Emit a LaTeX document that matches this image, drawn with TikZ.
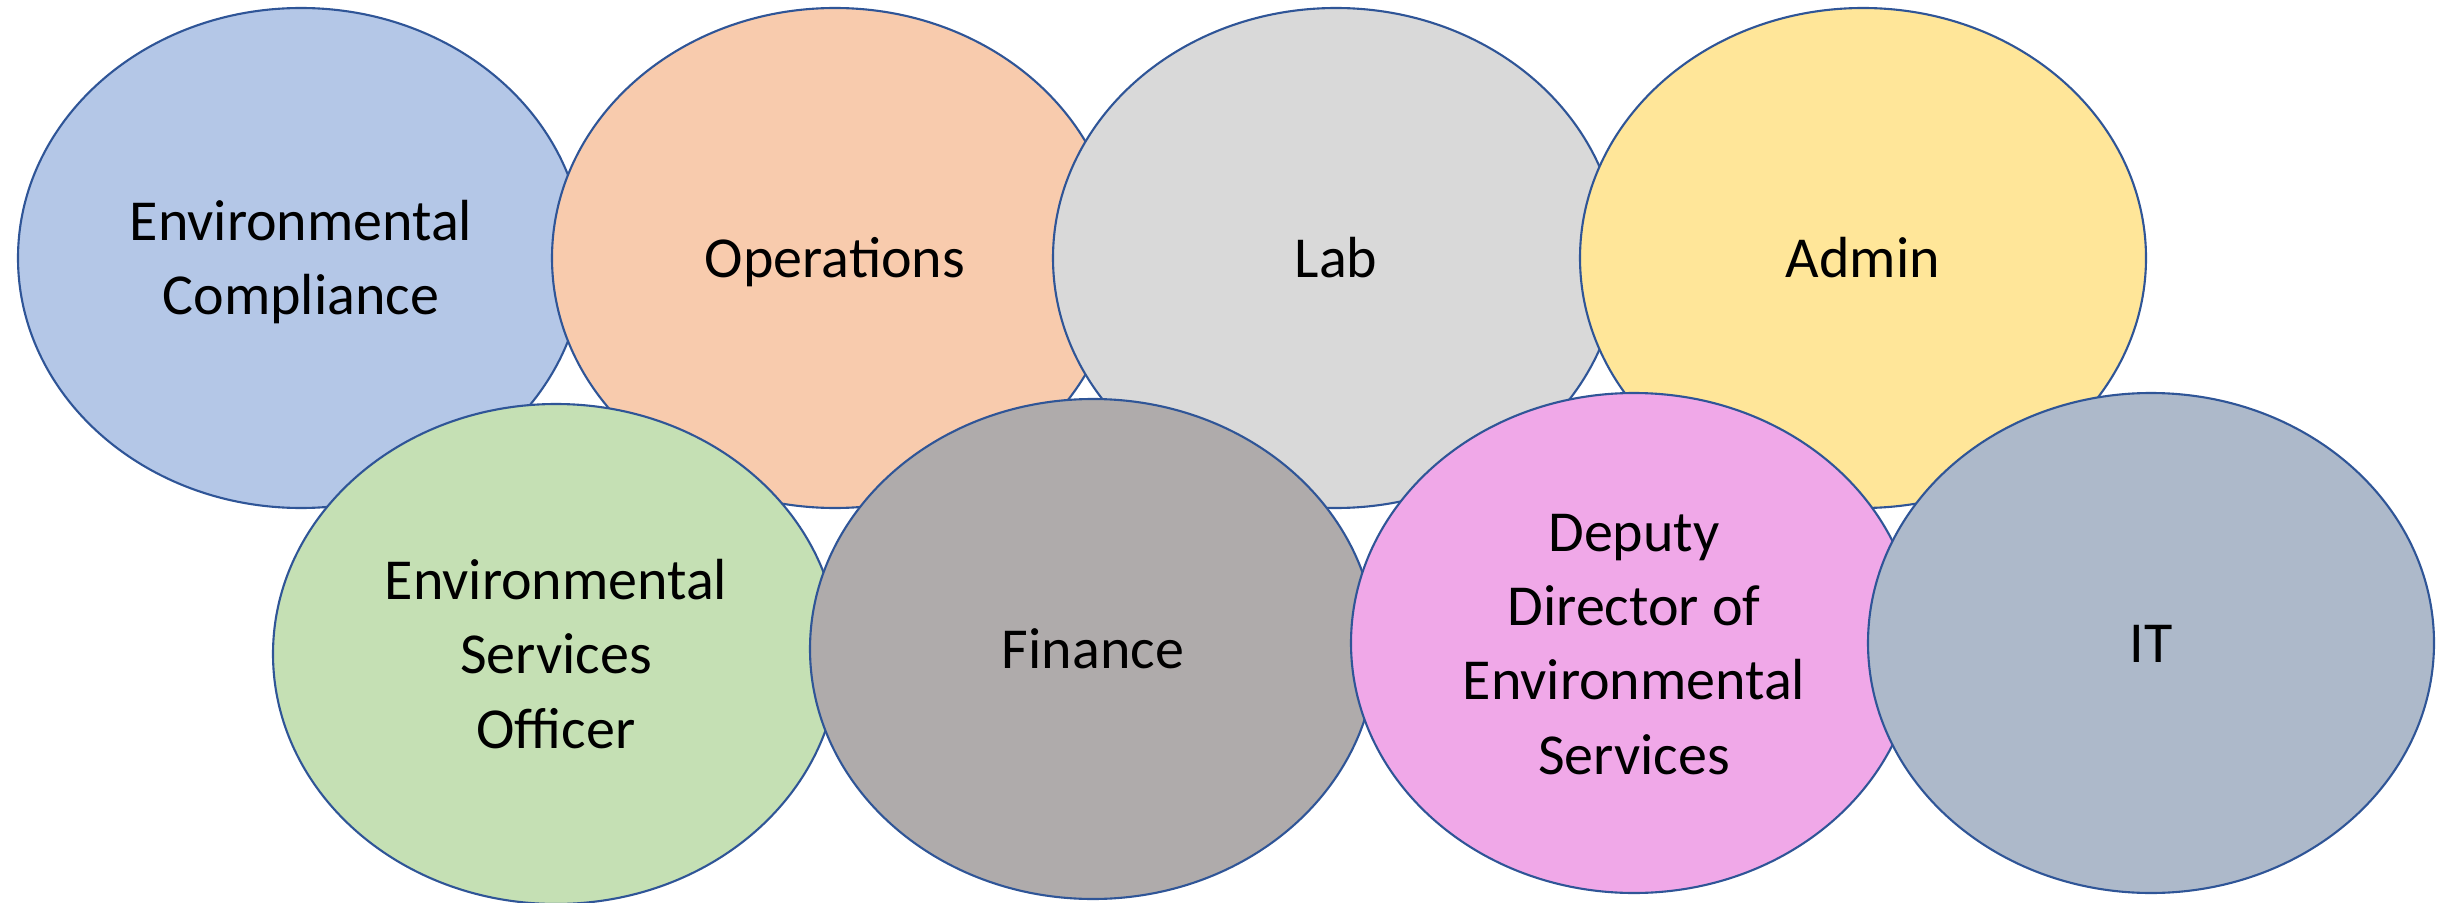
\documentclass[tikz,border=0pt]{standalone}
\usepackage{fontspec}
\setmainfont{Carlito}
\usepackage{tikz}
\usetikzlibrary{shapes.geometric}

\definecolor{rim}{HTML}{2F5597}
\definecolor{compl}{HTML}{B4C7E7}
\definecolor{oper}{HTML}{F8CBAD}
\definecolor{labc}{HTML}{D9D9D9}
\definecolor{admc}{HTML}{FFE699}
\definecolor{offc}{HTML}{C5E0B4}
\definecolor{finc}{HTML}{AFABAB}
\definecolor{depc}{HTML}{F0A8E8}
\definecolor{itc}{HTML}{ADB9CA}

% line box of one text line
\newcommand{\pstr}{\rule[-0.269em]{0pt}{1.221em}}

\begin{document}
\begin{tikzpicture}[
            x=0.1mm, y=-0.1mm,
            dept/.style={ellipse,draw=rim,line width=0.6pt,fill=#1,
                minimum width=56.6mm, minimum height=50mm,
                inner sep=0pt, outer sep=0pt, align=center,
                font=\fontsize{16.5}{20.1}\selectfont},
            dept/.default=white
        ]
        \useasboundingbox (0, 0) rectangle (2451, 903);
        \node[dept=compl] (compliance) at (301, 258)  {\pstr Environmental\\\pstr Compliance};
        \node[dept=oper]  (operations) at (835, 258)  {\pstr Operations};
        \node[dept=labc]  (lab)        at (1336, 258) {\pstr Lab};
        \node[dept=admc]  (admin)      at (1863, 258) {\pstr Admin};
        \node[dept=offc]  (officer)    at (556, 654)  {\pstr Environmental\\\pstr Services\\\pstr Officer};
        \node[dept=finc]  (finance)    at (1093, 649) {\pstr Finance};
        \node[dept=depc]  (deputy)     at (1634, 643) {\pstr Deputy\\\pstr Director of\\\pstr Environmental\\\pstr Services};
        \node[dept=itc]   (it)         at (2151, 643) {\pstr IT};
    \end{tikzpicture}
\end{document}
